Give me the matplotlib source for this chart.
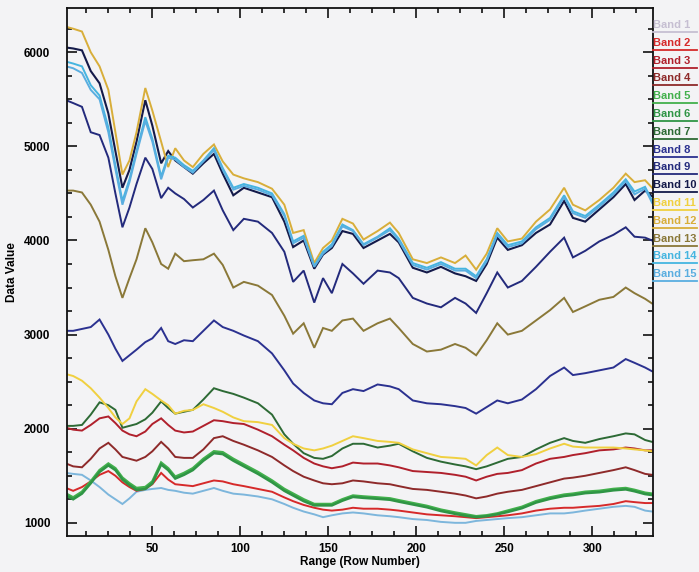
import numpy as np
import matplotlib
matplotlib.use("Agg")
import matplotlib.pyplot as plt
from matplotlib.lines import Line2D
from matplotlib.ticker import MultipleLocator

rows = [1, 5, 10, 15, 20, 25, 29, 33, 37, 41, 46, 50, 55, 59, 63, 68, 73, 79, 85, 90,
        96, 102, 110, 118, 125, 130, 136, 142, 147, 152, 158, 164, 170, 178, 185, 190,
        198, 206, 214, 222, 228, 234, 240, 246, 252, 260, 268, 276, 284, 289, 296, 304,
        312, 319, 324, 330, 334]

band1 = [1530, 1520, 1510, 1450, 1380, 1300, 1250, 1200, 1260, 1330, 1350, 1360, 1370, 1350,
         1340, 1320, 1310, 1340, 1370, 1340, 1310, 1300, 1280, 1250, 1200, 1160, 1120, 1090,
         1060, 1080, 1100, 1110, 1100, 1080, 1070, 1060, 1040, 1030, 1010, 1000, 1000, 1020,
         1030, 1040, 1050, 1060, 1080, 1100, 1100, 1110, 1130, 1150, 1170, 1180, 1170, 1130, 1120]
band2 = [1370, 1340, 1380, 1440, 1510, 1550, 1500, 1430, 1380, 1340, 1360, 1410, 1530, 1460,
         1410, 1400, 1390, 1420, 1450, 1440, 1410, 1390, 1360, 1330, 1270, 1230, 1190, 1160,
         1140, 1130, 1140, 1160, 1150, 1150, 1140, 1130, 1110, 1090, 1080, 1070, 1060, 1050,
         1060, 1070, 1080, 1100, 1130, 1150, 1160, 1160, 1170, 1180, 1200, 1230, 1220, 1210, 1210]
band3 = [2010, 1990, 1980, 2040, 2110, 2130, 2060, 1980, 1940, 1920, 1970, 2050, 2110, 2040,
         1980, 1960, 1970, 2030, 2090, 2080, 2060, 2050, 1990, 1920, 1830, 1770, 1690, 1630,
         1600, 1580, 1600, 1640, 1630, 1630, 1610, 1590, 1550, 1540, 1530, 1510, 1490, 1450,
         1490, 1520, 1530, 1560, 1630, 1680, 1700, 1720, 1740, 1770, 1780, 1800, 1790, 1770, 1770]
band4 = [1630, 1600, 1590, 1680, 1790, 1850, 1780, 1700, 1680, 1660, 1700, 1760, 1860, 1790,
         1700, 1690, 1690, 1780, 1900, 1920, 1870, 1830, 1770, 1700, 1610, 1550, 1490, 1450,
         1420, 1410, 1420, 1450, 1440, 1420, 1410, 1390, 1360, 1350, 1330, 1310, 1290, 1260,
         1280, 1310, 1330, 1350, 1390, 1430, 1470, 1480, 1500, 1530, 1560, 1590, 1560, 1520, 1510]
band5 = [1310, 1270, 1330, 1440, 1560, 1630, 1580, 1480, 1420, 1370, 1380, 1440, 1640, 1580,
         1490, 1530, 1580, 1680, 1760, 1750, 1680, 1620, 1540, 1450, 1360, 1310, 1250, 1200,
         1200, 1200, 1250, 1290, 1280, 1270, 1260, 1240, 1210, 1180, 1140, 1110, 1090, 1070,
         1080, 1100, 1130, 1170, 1230, 1270, 1300, 1310, 1330, 1340, 1360, 1370, 1350, 1320, 1310]
band6 = [1290, 1250, 1310, 1420, 1540, 1610, 1560, 1460, 1400, 1350, 1360, 1420, 1620, 1560,
         1470, 1510, 1560, 1660, 1740, 1730, 1660, 1600, 1520, 1430, 1340, 1290, 1230, 1185,
         1185, 1185, 1235, 1275, 1265, 1255, 1245, 1225, 1195, 1165, 1125, 1095, 1075, 1060,
         1070, 1090, 1115, 1155, 1215, 1255, 1285, 1295, 1315, 1325, 1345, 1355, 1335, 1305, 1295]
band7 = [2030, 2030, 2040, 2150, 2280, 2250, 2200, 2010, 2030, 2050, 2100, 2170, 2290, 2220,
         2160, 2180, 2200, 2310, 2430, 2400, 2370, 2330, 2270, 2150, 1940, 1840, 1740, 1690,
         1680, 1710, 1790, 1840, 1840, 1800, 1820, 1840, 1760, 1690, 1650, 1620, 1600, 1570,
         1600, 1640, 1680, 1700, 1780, 1850, 1900, 1870, 1850, 1890, 1920, 1950, 1940, 1880, 1860]
band8 = [3040, 3040, 3060, 3080, 3160, 3000, 2850, 2720, 2780, 2840, 2920, 2960, 3070, 2930,
         2900, 2940, 2930, 3040, 3150, 3080, 3040, 2990, 2930, 2800, 2620, 2480, 2380, 2300,
         2270, 2260, 2380, 2420, 2400, 2470, 2450, 2420, 2300, 2270, 2260, 2240, 2220, 2160,
         2230, 2300, 2270, 2310, 2420, 2560, 2650, 2570, 2590, 2620, 2650, 2740, 2700, 2650, 2610]
band9 = [5490, 5460, 5420, 5150, 5120, 4880, 4500, 4140, 4350, 4600, 4880, 4760, 4450, 4560,
         4500, 4440, 4350, 4430, 4530, 4320, 4110, 4230, 4200, 4080, 3880, 3560, 3680, 3340,
         3600, 3440, 3750, 3650, 3540, 3680, 3660, 3600, 3390, 3330, 3290, 3390, 3330, 3230,
         3440, 3660, 3500, 3570, 3720, 3880, 4030, 3820, 3890, 3990, 4060, 4140, 4040, 4030, 4000]
band10 = [6050, 6040, 6020, 5800, 5670, 5350, 4950, 4560, 4750, 5050, 5490, 5220, 4820, 4950,
          4850, 4780, 4710, 4820, 4920, 4710, 4480, 4560, 4510, 4460, 4200, 3930, 4000, 3700,
          3850, 3920, 4100, 4070, 3920, 4000, 4070, 3980, 3710, 3660, 3720, 3650, 3620, 3570,
          3750, 4030, 3900, 3950, 4080, 4170, 4420, 4240, 4200, 4330, 4460, 4600, 4430, 4530, 4470]
band11 = [2580, 2560, 2510, 2430, 2330, 2220, 2120, 2050, 2110, 2290, 2420, 2370, 2300, 2250,
          2160, 2190, 2200, 2260, 2220, 2180, 2120, 2080, 2070, 2040, 1900, 1840, 1790, 1770,
          1790, 1820, 1870, 1920, 1900, 1870, 1860, 1850, 1780, 1740, 1700, 1690, 1680, 1610,
          1720, 1800, 1720, 1700, 1730, 1790, 1840, 1810, 1800, 1800, 1800, 1790, 1780, 1770, 1760]
band12 = [6270, 6250, 6220, 6000, 5850, 5600, 5150, 4700, 4850, 5150, 5620, 5380, 5050, 4780,
          4980, 4850, 4780, 4920, 5020, 4840, 4700, 4660, 4620, 4550, 4380, 4080, 4110, 3760,
          3920, 4000, 4230, 4180, 4010, 4100, 4190, 4080, 3800, 3760, 3820, 3760, 3840, 3690,
          3860, 4130, 3990, 4020, 4200, 4330, 4560, 4380, 4320, 4430, 4560, 4710, 4620, 4640, 4560]
band13 = [4530, 4530, 4510, 4380, 4200, 3900, 3620, 3390, 3600, 3800, 4130, 3980, 3750, 3700,
          3860, 3780, 3790, 3800, 3860, 3740, 3500, 3560, 3520, 3420, 3200, 3010, 3120, 2860,
          3070, 3040, 3150, 3170, 3040, 3120, 3170, 3070, 2900, 2820, 2840, 2900, 2860, 2780,
          2940, 3120, 3000, 3040, 3150, 3260, 3390, 3240, 3300, 3370, 3400, 3500, 3440, 3380, 3330]
band14 = [5900, 5880, 5850, 5650, 5540, 5200, 4800, 4420, 4650, 4950, 5310, 5080, 4680, 4900,
          4880, 4800, 4740, 4850, 4980, 4770, 4560, 4600, 4560, 4500, 4280, 3990, 4050, 3730,
          3880, 3960, 4170, 4110, 3960, 4040, 4130, 4020, 3760, 3710, 3770, 3700, 3700, 3620,
          3800, 4080, 3950, 3990, 4140, 4240, 4480, 4310, 4260, 4380, 4510, 4650, 4520, 4570, 4420]
band15 = [5850, 5830, 5780, 5600, 5500, 5150, 4760, 4380, 4620, 4920, 5270, 5050, 4650, 4880,
          4860, 4780, 4720, 4840, 4960, 4750, 4540, 4580, 4540, 4480, 4260, 3970, 4030, 3720,
          3860, 3940, 4150, 4100, 3950, 4030, 4110, 4000, 3740, 3690, 3750, 3680, 3680, 3600,
          3780, 4060, 3930, 3970, 4120, 4220, 4460, 4290, 4240, 4360, 4490, 4630, 4490, 4550, 4400]

bands = [band1, band2, band3, band4, band5, band6, band7, band8, band9, band10,
         band11, band12, band13, band14, band15]
labels = [f"Band {i}" for i in range(1, 16)]
# legend text colours as printed; Band 1 line shows up light blue on the page
text_colors = ["#c6bfd2", "#d62a2a", "#b0202c", "#8e2a2a", "#42b04c", "#2f9545", "#2d6a35",
               "#2b3190", "#232a7c", "#141a4a", "#f0d040", "#d8ae3a", "#8a7838", "#45b5e0",
               "#5aaee0"]
line_colors = ["#7db6dc"] + text_colors[1:]
line_widths = [1.4, 1.4, 1.4, 1.4, 1.8, 1.8, 1.4, 1.4, 1.4, 1.5, 1.4, 1.4, 1.4, 1.4, 1.4]

BG = "#f3f3f5"
plt.rcParams["font.family"] = ["Liberation Sans", "DejaVu Sans"]
plt.rcParams["font.weight"] = "bold"

fig = plt.figure(figsize=(6.99, 5.72), dpi=100, facecolor=BG)
ax = fig.add_axes([67 / 699, 1 - 536 / 572, (653 - 67) / 699, (536 - 8) / 572])
ax.set_facecolor(BG)

for y, c, lw in zip(bands, line_colors, line_widths):
    ax.plot(rows, y, color=c, lw=lw, solid_joinstyle="miter")

ax.set_xlim(1.5, 334.5)
ax.set_ylim(860, 6470)
ax.xaxis.set_major_locator(MultipleLocator(50))
ax.xaxis.set_minor_locator(MultipleLocator(12.5))
ax.yaxis.set_major_locator(MultipleLocator(1000))
ax.yaxis.set_minor_locator(MultipleLocator(250))
ax.tick_params(which="both", direction="in", top=True, right=True, color="#111", width=1.2)
ax.tick_params(which="major", length=7)
ax.tick_params(which="minor", length=3.5)
ax.tick_params(axis="y", which="major", pad=12, labelsize=8.5)
ax.tick_params(axis="x", which="major", pad=5, labelsize=8.5)
for s in ax.spines.values():
    s.set_linewidth(1.3)
    s.set_color("#111")

ax.set_xlabel("Range (Row Number)", fontsize=8.5, fontweight="bold", labelpad=1)
ax.set_ylabel("Data Value", fontsize=8.5, fontweight="bold", labelpad=4)

# colored legend labels outside the right edge, each underlined
for i, (lab, c) in enumerate(zip(labels, text_colors)):
    yc = 1 - (25 + 17.8 * i) / 572
    fig.text(653 / 699, yc, lab, color=c, fontsize=8, fontweight="bold",
             ha="left", va="center")
    yl = yc - 7 / 572
    fig.add_artist(Line2D([653 / 699, 697 / 699], [yl, yl], color=c, lw=1.3,
                          transform=fig.transFigure))

fig.savefig("out.png", dpi=100, facecolor=BG)
